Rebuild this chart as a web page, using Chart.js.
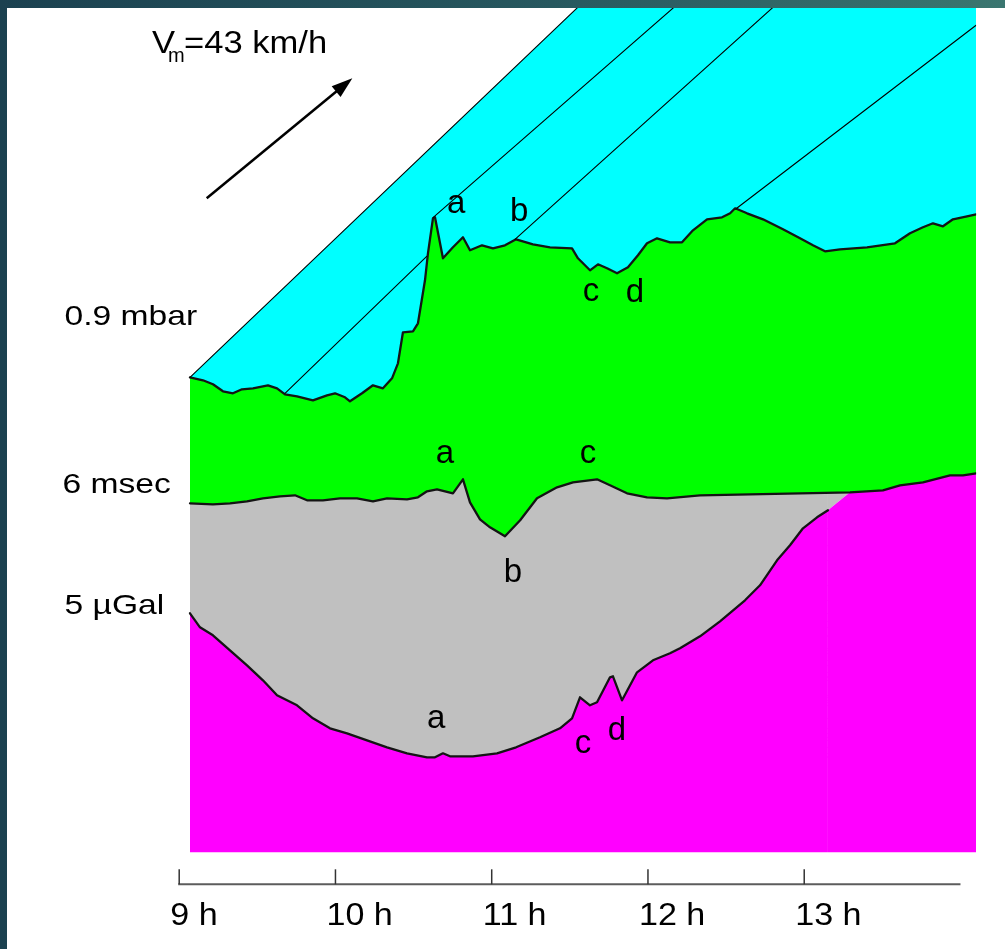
<!DOCTYPE html>
<html>
<head>
<meta charset="utf-8">
<title>Front passage: pressure, delay and gravity</title>
<script src="https://cdn.jsdelivr.net/npm/chart.js@4.4.1/dist/chart.umd.min.js"></script>
<style>
  html, body { margin: 0; padding: 0; }
  body {
    width: 1005px; height: 949px; overflow: hidden;
    background: linear-gradient(to right, #1b4150, #27585f 55%, #3a7670);
  }
  #wrap { position: absolute; left: 7px; top: 8px; width: 998px; height: 941px; background: #fff; }
</style>
</head>
<body>
<div id="wrap"><canvas id="frontChart" width="998" height="941"></canvas></div>
<script>
// time in hours, values in relative display units (no y axis in the figure)
const hourTicks = [9, 10, 11, 12, 13];
const axisEnd = 14;

const pressureT = [9.069, 9.152, 9.216, 9.280, 9.344, 9.402, 9.472, 9.568, 9.626, 9.677,
  9.754, 9.856, 9.946, 9.997, 10.061, 10.093, 10.170, 10.240, 10.304, 10.362,
  10.400, 10.432, 10.496, 10.528, 10.573, 10.592, 10.624, 10.637, 10.688, 10.752,
  10.816, 10.861, 10.938, 11.008, 11.085, 11.156, 11.264, 11.373, 11.514, 11.552,
  11.629, 11.680, 11.738, 11.802, 11.872, 11.936, 11.994, 12.058, 12.141, 12.218,
  12.288, 12.378, 12.474, 12.526, 12.558, 12.634, 12.736, 12.864, 12.973, 13.056,
  13.133, 13.229, 13.402, 13.581, 13.677, 13.760, 13.824, 13.888, 13.952, 14.042, 14.100];
const pressureV = [50.7, 50.4, 50.0, 49.3, 49.1, 49.5, 49.6, 49.9, 49.6, 49.0,
  48.8, 48.4, 48.9, 49.1, 48.7, 48.3, 49.1, 49.9, 49.6, 50.6,
  52.1, 55.2, 55.3, 56.1, 60.4, 63.1, 66.6, 66.7, 62.6, 63.7,
  64.7, 63.4, 63.9, 63.6, 63.9, 64.5, 64.0, 63.7, 63.6, 62.6,
  61.4, 62.0, 61.6, 61.1, 61.7, 62.9, 64.1, 64.6, 64.2, 64.2,
  65.4, 66.5, 66.7, 67.1, 67.6, 67.1, 66.5, 65.5, 64.6, 63.9,
  63.3, 63.5, 63.7, 64.1, 65.1, 65.7, 66.1, 65.8, 66.5, 66.8, 67.0];

const msecT = [9.069, 9.216, 9.325, 9.434, 9.536, 9.645, 9.741, 9.818, 9.920, 10.029,
  10.138, 10.240, 10.330, 10.458, 10.528, 10.586, 10.650, 10.752, 10.816, 10.861,
  10.925, 10.989, 11.085, 11.182, 11.290, 11.418, 11.520, 11.674, 11.757, 11.866,
  11.994, 12.122, 12.333, 12.653, 12.973, 13.293, 13.504, 13.613, 13.760, 13.933, 14.016, 14.100];
const msecV = [38.1, 38.0, 38.1, 38.3, 38.6, 38.8, 38.9, 38.4, 38.4, 38.6,
  38.6, 38.3, 38.6, 38.5, 38.7, 39.3, 39.5, 39.1, 40.5, 38.2,
  36.5, 35.7, 34.8, 36.4, 38.6, 39.7, 40.2, 40.5, 39.9, 39.1,
  38.7, 38.6, 38.9, 39.0, 39.1, 39.2, 39.4, 39.9, 40.2, 40.9, 40.9, 41.1];

const gravityT = [9.069, 9.133, 9.216, 9.325, 9.434, 9.536, 9.626, 9.754, 9.856, 9.965,
  10.074, 10.202, 10.330, 10.458, 10.586, 10.637, 10.688, 10.733, 10.880, 11.034,
  11.156, 11.309, 11.437, 11.514, 11.565, 11.629, 11.674, 11.757, 11.776, 11.834,
  11.930, 12.032, 12.141, 12.205, 12.333, 12.461, 12.621, 12.717, 12.826, 12.909,
  12.992, 13.082, 13.152, 13.293, 13.504, 13.613, 13.760, 13.933, 14.016, 14.100];
const gravityV = [27.1, 25.7, 24.9, 23.4, 21.9, 20.4, 18.9, 17.9, 16.6, 15.6,
  15.1, 14.4, 13.7, 13.1, 12.7, 12.7, 13.1, 12.8, 12.8, 13.1,
  13.7, 14.7, 15.6, 16.6, 18.7, 17.9, 18.2, 20.7, 20.8, 18.4,
  21.2, 22.4, 23.1, 23.6, 24.8, 26.3, 28.4, 29.9, 32.4, 33.9,
  35.6, 36.7, 37.4, 39.2, 39.4, 39.9, 40.2, 40.9, 40.9, 41.1];
const gravityLineEnd = 13.152;   // beyond this the curve runs under the green band
const gravityBase = 3.2;

// leading edge of the front and the propagation lines (v = 43 km/h)
const frontT = [9.069, 14.1];
const frontV = [50.7, 125.7];
const waveStartT = [9.677, 10.626, 11.149, 12.568];
const waveStartV = [49.1, 66.7, 64.5, 67.6];
const waveEndT = [10.584, 12.335, 12.964, 14.100];
const waveEndV = [62.8, 90.0, 90.0, 85.9];

// feature letters
const letterText = ['a', 'b', 'c', 'd', 'a', 'c', 'b', 'a', 'c', 'd'];
const letterT = [10.772, 11.175, 11.636, 11.917, 10.701, 11.616, 11.136, 10.644, 11.584, 11.802];
const letterV = [67.1, 66.3, 58.3, 58.2, 42.1, 42.1, 30.2, 15.6, 13.1, 14.4];

const scaleText = ['0.9 mbar', '6 msec', '5 \u00b5Gal'];
const scaleTextT = [8.266, 8.253, 8.266];
const scaleTextV = [55.9, 39.1, 27.0];

const speedT = 8.826, speedV = 83.1;
const arrowT = [9.176, 10.108];
const arrowV = [68.6, 80.6];

const CYAN = '#00ffff', GREEN = '#00ff00', GRAY = '#c0c0c0', MAGENTA = '#ff00ff';
const curveColor = '#141414';

const toPoints = (ts, vs) => ts.map((t, i) => ({ x: t, y: vs[i] }));

const datasets = waveStartT.map((t0, i) => ({
    label: 'wave ' + (i + 1),
    data: [{ x: t0, y: waveStartV[i] }, { x: waveEndT[i], y: waveEndV[i] }],
    borderColor: '#000',
    borderWidth: 1.1,
    fill: false
}));

const frontIdx = datasets.length;
const pressureIdx = frontIdx + 1;
const msecIdx = frontIdx + 2;
const gravityIdx = frontIdx + 3;

datasets.push({
    label: 'front',
    data: toPoints(frontT, frontV),
    borderColor: '#000',
    borderWidth: 1.1,
    fill: { target: pressureIdx, above: CYAN, below: CYAN }
});
datasets.push({
    label: 'pressure',
    data: toPoints(pressureT, pressureV),
    borderColor: curveColor,
    borderWidth: 2.3,
    fill: { target: msecIdx, above: GREEN, below: GREEN }
});
datasets.push({
    label: 'delay',
    data: toPoints(msecT, msecV),
    borderColor: curveColor,
    borderWidth: 2.3,
    fill: { target: gravityIdx, above: GRAY, below: MAGENTA }
});
datasets.push({
    label: 'gravity',
    data: toPoints(gravityT, gravityV),
    borderColor: curveColor,
    borderWidth: 2.3,
    segment: {
        borderColor: ctx => ctx.p0.parsed.x >= gravityLineEnd ? 'rgba(0,0,0,0)' : curveColor
    },
    fill: { value: gravityBase, above: MAGENTA, below: MAGENTA }
});

function drawText(ctx, str, px, py, size, stretch, align) {
    ctx.save();
    ctx.translate(px, py);
    ctx.scale(stretch, 1);
    ctx.font = size + 'px "Liberation Sans", Arial, sans-serif';
    ctx.fillStyle = '#000';
    ctx.textAlign = align || 'left';
    ctx.textBaseline = 'alphabetic';
    ctx.fillText(str, 0, 0);
    ctx.restore();
}

const annotations = {
    id: 'annotations',
    afterDraw(chart) {
        const { ctx, chartArea, scales: { x, y } } = chart;
        const axisY = chartArea.bottom;

        // time axis with tick marks pointing up
        ctx.save();
        ctx.strokeStyle = '#5c5c5c';
        ctx.lineWidth = 2;
        ctx.beginPath();
        ctx.moveTo(x.getPixelForValue(hourTicks[0]) - 1, axisY);
        ctx.lineTo(x.getPixelForValue(axisEnd), axisY);
        ctx.stroke();
        ctx.strokeStyle = '#333';
        ctx.lineWidth = 1.5;
        x.ticks.forEach(tk => {
            const px = x.getPixelForValue(tk.value);
            ctx.beginPath();
            ctx.moveTo(px, axisY);
            ctx.lineTo(px, axisY - 15);
            ctx.stroke();
            drawText(ctx, tk.value + ' h', px - 9, axisY + 40.7, 31, 1.1, 'left');
        });
        ctx.restore();

        letterText.forEach((s, i) => {
            drawText(ctx, s, x.getPixelForValue(letterT[i]), y.getPixelForValue(letterV[i]), 33, 1.0, 'center');
        });

        scaleText.forEach((s, i) => {
            drawText(ctx, s, x.getPixelForValue(scaleTextT[i]), y.getPixelForValue(scaleTextV[i]), 28, 1.2, 'left');
        });

        const sx = x.getPixelForValue(speedT), sy = y.getPixelForValue(speedV);
        drawText(ctx, 'V', sx, sy, 32, 1.08, 'left');
        drawText(ctx, 'm', sx + 16, sy + 9, 20, 1.0, 'left');
        drawText(ctx, '=43 km/h', sx + 32, sy, 32, 1.08, 'left');

        // direction arrow
        const x0 = x.getPixelForValue(arrowT[0]), y0 = y.getPixelForValue(arrowV[0]);
        const x1 = x.getPixelForValue(arrowT[1]), y1 = y.getPixelForValue(arrowV[1]);
        const ang = Math.atan2(y1 - y0, x1 - x0);
        const headLen = 21, headW = 7;
        ctx.save();
        ctx.strokeStyle = '#000';
        ctx.fillStyle = '#000';
        ctx.lineWidth = 2.5;
        ctx.beginPath();
        ctx.moveTo(x0, y0);
        ctx.lineTo(x1 - Math.cos(ang) * headLen * 0.8, y1 - Math.sin(ang) * headLen * 0.8);
        ctx.stroke();
        ctx.beginPath();
        ctx.moveTo(x1, y1);
        ctx.lineTo(x1 - Math.cos(ang) * headLen - Math.sin(ang) * headW, y1 - Math.sin(ang) * headLen + Math.cos(ang) * headW);
        ctx.lineTo(x1 - Math.cos(ang) * headLen + Math.sin(ang) * headW, y1 - Math.sin(ang) * headLen - Math.cos(ang) * headW);
        ctx.closePath();
        ctx.fill();
        ctx.restore();
    }
};

new Chart(document.getElementById('frontChart').getContext('2d'), {
    type: 'line',
    data: { datasets },
    options: {
        responsive: false,
        animation: false,
        devicePixelRatio: 1,
        layout: { padding: { left: 172.2, right: 28.9, top: 0, bottom: 0 } },
        elements: {
            point: { radius: 0, hoverRadius: 0 },
            line: { tension: 0, borderJoinStyle: 'round', borderCapStyle: 'round' }
        },
        plugins: {
            legend: { display: false },
            tooltip: { enabled: false },
            // all bands first, then every curve on top of them
            filler: { propagate: false, drawTime: 'beforeDatasetsDraw' }
        },
        events: [],
        scales: {
            x: {
                type: 'linear',
                min: 9,
                max: 14.1,
                grid: { display: false, drawTicks: false },
                border: { display: false },
                ticks: { display: false },
                afterBuildTicks: axis => { axis.ticks = hourTicks.map(v => ({ value: v })); },
                afterFit: axis => { axis.height = 64.7; }
            },
            y: { type: 'linear', display: false, min: 0, max: 87.63 }
        }
    },
    plugins: [annotations]
});
</script>
</body>
</html>
